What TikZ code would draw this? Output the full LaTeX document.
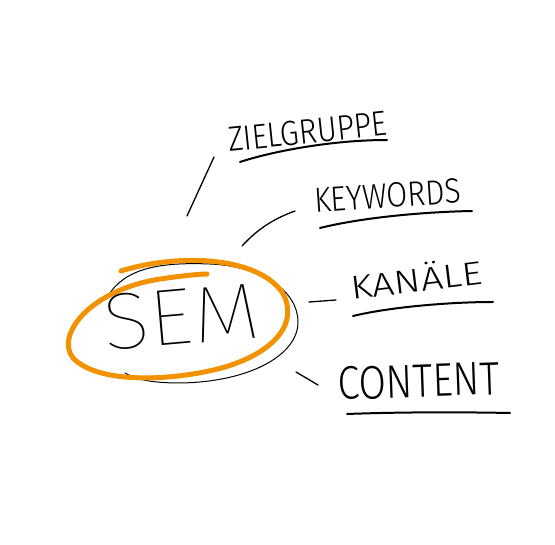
\documentclass[tikz,border=0pt]{standalone}
\usepackage{fontspec}
\usepackage{graphicx}
\newfontfamily\hand{Fira Sans Light}
\newfontfamily\handthin{Fira Sans Thin}
\definecolor{sorange}{HTML}{F39200}
\begin{document}
\begin{tikzpicture}[x=1pt,y=-1pt,
  stroke/.style={black, line width=1.3pt, line cap=round},
  uline/.style={black, line width=2pt, line cap=round},
  ring/.style={sorange, line width=5pt, line cap=round},
  thinring/.style={black, line width=1pt, line cap=round},
  lbl/.style={inner sep=0pt, anchor=base west}]
\path[use as bounding box] (0,0) rectangle (555,545);
% black sketch ellipse
\draw[thinring] (108,296) .. controls (125,268) and (160,262) .. (210,264)
  .. controls (260,266) and (298,290) .. (298,322)
  .. controls (298,355) and (250,382) .. (180,383)
  .. controls (150,383) and (135,379) .. (125,373);
% orange loop
\draw[ring] (121,271) .. controls (175,254) and (255,255) .. (282,292)
  .. controls (300,322) and (275,352) .. (225,367)
  .. controls (180,380) and (100,386) .. (73,358)
  .. controls (55,335) and (90,290) .. (160,279)
  .. controls (180,276) and (200,274) .. (207,274);
% center text
\node[lbl, rotate=5] (sem) at (105,351) {\resizebox{157pt}{\height}{\handthin\fontsize{80}{80}\selectfont SEM}};
% labels
\node[lbl, rotate=6] (zg) at (229,152) {\resizebox{160pt}{\height}{\hand\fontsize{35}{35}\selectfont ZIELGRUPPE}};
\node[lbl, rotate=4] (kw) at (315,213) {\resizebox{147pt}{\height}{\hand\fontsize{35}{35}\selectfont KEYWORDS}};
\node[lbl, rotate=7] (ka) at (352,300) {\resizebox{132pt}{\height}{\hand\fontsize{33}{33}\selectfont KANÄLE}};
\node[lbl, rotate=2] (co) at (338,400) {\resizebox{162pt}{\height}{\hand\fontsize{47}{47}\selectfont CONTENT}};
% underlines
\coordinate (zgu1) at (240,162); \coordinate (zgu2) at (387,140);
\coordinate (kwu1) at (320,228); \coordinate (kwu2) at (472,211);
\coordinate (kau1) at (353,316); \coordinate (kau2) at (493,302);
\coordinate (cou1) at (347,414); \coordinate (cou2) at (510,413);
\draw[uline] (zgu1) .. controls (270,152) and (330,140) .. (zgu2);
\draw[uline] (kwu1) .. controls (360,218) and (420,212) .. (kwu2);
\draw[uline] (kau1) .. controls (390,307) and (450,302) .. (kau2);
\draw[uline] (cou1) .. controls (400,412) and (460,412) .. (cou2);
% connector strokes
\coordinate (zgc1) at (214,157); \coordinate (zgc2) at (187,216);
\coordinate (kwc1) at (295,211); \coordinate (kwc2) at (242,246);
\coordinate (kac1) at (309,302); \coordinate (kac2) at (336,300);
\coordinate (coc1) at (296,372); \coordinate (coc2) at (318,385);
\draw[stroke] (zgc1) -- (zgc2);
\draw[stroke] (kwc1) .. controls (270,220) and (255,232) .. (kwc2);
\draw[stroke] (kac1) -- (kac2);
\draw[stroke] (coc1) -- (coc2);
\end{tikzpicture}
\end{document}
